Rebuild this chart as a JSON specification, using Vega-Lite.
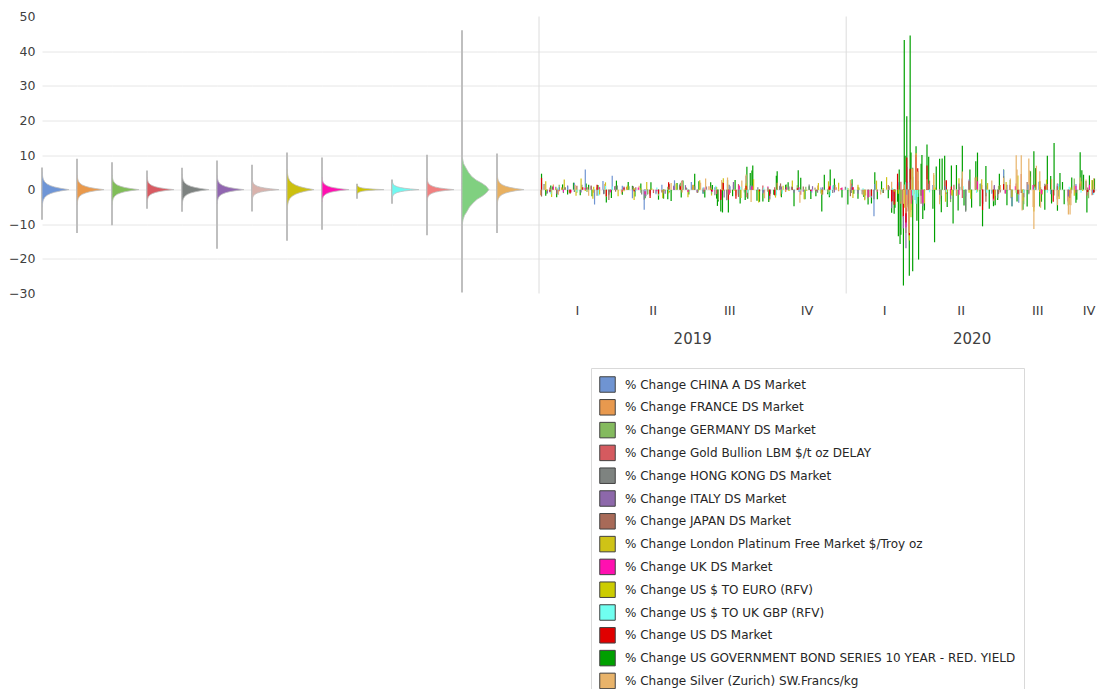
{
"$schema": "https://vega.github.io/schema/vega-lite/v6.json",
"padding": {"left": 0, "top": 10.5, "right": 0, "bottom": 0},
"background": "white",
"config": {"view": {"stroke": null}, "font": "DejaVu Sans"},
"spacing": 0,
"resolve": {"scale": {"color": "independent"}, "legend": {"color": "independent"}},
"datasets": {
"names": [
{"c":"a","n":"% Change CHINA A DS Market"},{"c":"b","n":"% Change FRANCE DS Market"},{"c":"c","n":"% Change GERMANY DS Market"},{"c":"d","n":"% Change Gold Bullion LBM $/t oz DELAY"},{"c":"e","n":"% Change HONG KONG DS Market"},{"c":"f","n":"% Change ITALY DS Market"},{"c":"g","n":"% Change JAPAN DS Market"},{"c":"h","n":"% Change London Platinum Free Market $/Troy oz"},{"c":"i","n":"% Change UK DS Market"},{"c":"j","n":"% Change US $ TO EURO (RFV)"},{"c":"k","n":"% Change US $ TO UK GBP (RFV)"},{"c":"l","n":"% Change US DS Market"},{"c":"m","n":"% Change US GOVERNMENT BOND SERIES 10 YEAR - RED. YIELD"},{"c":"n","n":"% Change Silver (Zurich) SW.Francs/kg"}
],
"vio": [
{"s": "% Change CHINA A DS Market", "lo": -8.7, "hi": 6.4, "v": [-5,-3.75,-3,-2.25,-1.63,-1.13,-0.75,-0.38,0,0.38,0.75,1.13,1.63,2.25,3,3.75,5], "w": [0.01,0.025,0.05,0.1,0.19,0.32,0.47,0.69,1,0.69,0.47,0.32,0.19,0.1,0.05,0.025,0.01]},
{"s": "% Change FRANCE DS Market", "lo": -12.5, "hi": 8.9, "v": [-4.2,-3.15,-2.52,-1.89,-1.37,-0.95,-0.63,-0.32,0,0.32,0.63,0.95,1.37,1.89,2.52,3.15,4.2], "w": [0.01,0.025,0.05,0.1,0.19,0.32,0.47,0.69,1,0.69,0.47,0.32,0.19,0.1,0.05,0.025,0.01]},
{"s": "% Change GERMANY DS Market", "lo": -10.3, "hi": 7.9, "v": [-4.2,-3.15,-2.52,-1.89,-1.37,-0.95,-0.63,-0.32,0,0.32,0.63,0.95,1.37,1.89,2.52,3.15,4.2], "w": [0.01,0.025,0.05,0.1,0.19,0.32,0.47,0.69,1,0.69,0.47,0.32,0.19,0.1,0.05,0.025,0.01]},
{"s": "% Change Gold Bullion LBM $/t oz DELAY", "lo": -5.5, "hi": 5.5, "v": [-3.6,-2.7,-2.16,-1.62,-1.17,-0.81,-0.54,-0.27,0,0.27,0.54,0.81,1.17,1.62,2.16,2.7,3.6], "w": [0.01,0.025,0.05,0.1,0.19,0.32,0.47,0.69,1,0.69,0.47,0.32,0.19,0.1,0.05,0.025,0.01]},
{"s": "% Change HONG KONG DS Market", "lo": -6.4, "hi": 6.3, "v": [-4.4,-3.3,-2.64,-1.98,-1.43,-0.99,-0.66,-0.33,0,0.33,0.66,0.99,1.43,1.98,2.64,3.3,4.4], "w": [0.01,0.025,0.05,0.1,0.19,0.32,0.47,0.69,1,0.69,0.47,0.32,0.19,0.1,0.05,0.025,0.01]},
{"s": "% Change ITALY DS Market", "lo": -17.1, "hi": 8.4, "v": [-4,-3,-2.4,-1.8,-1.3,-0.9,-0.6,-0.3,0,0.3,0.6,0.9,1.3,1.8,2.4,3,4], "w": [0.01,0.025,0.05,0.1,0.19,0.32,0.47,0.69,1,0.69,0.47,0.32,0.19,0.1,0.05,0.025,0.01]},
{"s": "% Change JAPAN DS Market", "lo": -6.3, "hi": 7.2, "v": [-3.1,-2.33,-1.86,-1.4,-1.01,-0.7,-0.47,-0.23,0,0.23,0.47,0.7,1.01,1.4,1.86,2.33,3.1], "w": [0.01,0.025,0.05,0.1,0.19,0.32,0.47,0.69,1,0.69,0.47,0.32,0.19,0.1,0.05,0.025,0.01]},
{"s": "% Change London Platinum Free Market $/Troy oz", "lo": -14.8, "hi": 10.7, "v": [-5.8,-4.35,-3.48,-2.61,-1.89,-1.31,-0.87,-0.44,0,0.44,0.87,1.31,1.89,2.61,3.48,4.35,5.8], "w": [0.01,0.025,0.05,0.1,0.19,0.32,0.47,0.69,1,0.69,0.47,0.32,0.19,0.1,0.05,0.025,0.01]},
{"s": "% Change UK DS Market", "lo": -11.6, "hi": 9.3, "v": [-3.4,-2.55,-2.04,-1.53,-1.11,-0.77,-0.51,-0.26,0,0.26,0.51,0.77,1.11,1.53,2.04,2.55,3.4], "w": [0.01,0.025,0.05,0.1,0.19,0.32,0.47,0.69,1,0.69,0.47,0.32,0.19,0.1,0.05,0.025,0.01]},
{"s": "% Change US $ TO EURO (RFV)", "lo": -2.6, "hi": 1.7, "v": [-1.5,-1.13,-0.9,-0.68,-0.49,-0.34,-0.23,-0.11,0,0.11,0.23,0.34,0.49,0.68,0.9,1.13,1.5], "w": [0.01,0.025,0.05,0.1,0.19,0.32,0.47,0.69,1,0.69,0.47,0.32,0.19,0.1,0.05,0.025,0.01]},
{"s": "% Change US $ TO UK GBP (RFV)", "lo": -4.1, "hi": 2.9, "v": [-2.6,-1.95,-1.56,-1.17,-0.85,-0.59,-0.39,-0.2,0,0.2,0.39,0.59,0.85,1.17,1.56,1.95,2.6], "w": [0.01,0.025,0.05,0.1,0.19,0.32,0.47,0.69,1,0.69,0.47,0.32,0.19,0.1,0.05,0.025,0.01]},
{"s": "% Change US DS Market", "lo": -13.2, "hi": 10.1, "v": [-3.2,-2.4,-1.92,-1.44,-1.04,-0.72,-0.48,-0.24,0,0.24,0.48,0.72,1.04,1.44,1.92,2.4,3.2], "w": [0.01,0.025,0.05,0.1,0.19,0.32,0.47,0.69,1,0.69,0.47,0.32,0.19,0.1,0.05,0.025,0.01]},
{"s": "% Change US GOVERNMENT BOND SERIES 10 YEAR - RED. YIELD", "lo": -29.7, "hi": 46.0, "v": [-10,-8.7,-7.5,-6.5,-5,-3.8,-2.8,-1.9,-1,0,1,1.9,2.8,3.8,5,6.5,7.5,9], "w": [0.01,0.04,0.09,0.17,0.28,0.42,0.56,0.75,0.9,1,0.9,0.73,0.52,0.36,0.24,0.13,0.06,0.02]},
{"s": "% Change Silver (Zurich) SW.Francs/kg", "lo": -12.5, "hi": 10.4, "v": [-4.4,-3.3,-2.64,-1.98,-1.43,-0.99,-0.66,-0.33,0,0.33,0.66,0.99,1.43,1.98,2.64,3.3,4.4], "w": [0.01,0.025,0.05,0.1,0.19,0.32,0.47,0.69,1,0.69,0.47,0.32,0.19,0.1,0.05,0.025,0.01]}
],
"ts": [
{"c":"m","t":"2019-01-17","v":0.9},{"c":"m","t":"2019-02-07","v":-1.1},{"c":"m","t":"2019-03-01","v":1.4},{"c":"m","t":"2019-03-19","v":-1.2},{"c":"m","t":"2019-04-22","v":1.1},{"c":"m","t":"2019-05-10","v":-1.3},{"c":"m","t":"2019-06-11","v":1.5},{"c":"m","t":"2019-07-15","v":-1.1},{"c":"m","t":"2019-07-26","v":1.3},{"c":"m","t":"2019-08-19","v":-1.9},{"c":"m","t":"2019-10-07","v":-1.5},{"c":"m","t":"2019-10-21","v":1.4},{"c":"m","t":"2019-11-18","v":1.0},{"c":"m","t":"2019-12-10","v":-1.3},{"c":"m","t":"2020-01-10","v":-1.2},{"c":"m","t":"2020-02-14","v":-1.0},{"c":"m","t":"2020-06-29","v":-3.0},{"c":"m","t":"2020-07-14","v":2.8},{"c":"m","t":"2020-08-31","v":3.9},{"c":"m","t":"2020-09-14","v":2.2},{"c":"m","t":"2020-10-01","v":-2.9},
{"c":"m","t":"2019-01-04","v":4.6},{"c":"m","t":"2019-01-09","v":-1.8},{"c":"m","t":"2019-01-15","v":1.2},{"c":"m","t":"2019-01-22","v":-2.2},{"c":"m","t":"2019-01-29","v":1.5},{"c":"m","t":"2019-02-04","v":-1.4},{"c":"m","t":"2019-02-11","v":2.0},{"c":"m","t":"2019-02-19","v":-1.6},{"c":"m","t":"2019-02-26","v":1.8},{"c":"m","t":"2019-03-05","v":-1.9},{"c":"m","t":"2019-03-12","v":1.3},{"c":"m","t":"2019-03-22","v":-3.7},{"c":"m","t":"2019-03-28","v":-2.4},{"c":"m","t":"2019-04-03","v":2.6},{"c":"m","t":"2019-04-10","v":-1.5},{"c":"m","t":"2019-04-17","v":2.2},{"c":"m","t":"2019-04-25","v":-2.0},{"c":"m","t":"2019-05-02","v":1.8},{"c":"m","t":"2019-05-07","v":-2.5},{"c":"m","t":"2019-05-14","v":2.1},{"c":"m","t":"2019-05-23","v":-2.9},{"c":"m","t":"2019-05-29","v":-2.6},{"c":"m","t":"2019-06-03","v":-2.8},{"c":"m","t":"2019-06-07","v":-3.3},{"c":"m","t":"2019-06-14","v":1.9},{"c":"m","t":"2019-06-19","v":-2.3},{"c":"m","t":"2019-06-21","v":2.6},{"c":"m","t":"2019-06-28","v":-1.4},{"c":"m","t":"2019-07-05","v":4.6},{"c":"m","t":"2019-07-10","v":2.4},{"c":"m","t":"2019-07-17","v":-2.3},{"c":"m","t":"2019-07-24","v":2.1},{"c":"m","t":"2019-07-31","v":-2.6},{"c":"m","t":"2019-08-01","v":-4.7},{"c":"m","t":"2019-08-02","v":-3.4},{"c":"m","t":"2019-08-05","v":-6.3},{"c":"m","t":"2019-08-07","v":-6.6},{"c":"m","t":"2019-08-13","v":2.8},{"c":"m","t":"2019-08-14","v":-6.6},{"c":"m","t":"2019-08-22","v":2.8},{"c":"m","t":"2019-08-28","v":-4.0},{"c":"m","t":"2019-09-03","v":-3.0},{"c":"m","t":"2019-09-05","v":6.6},{"c":"m","t":"2019-09-06","v":-2.6},{"c":"m","t":"2019-09-09","v":4.8},{"c":"m","t":"2019-09-11","v":5.5},{"c":"m","t":"2019-09-12","v":7.0},{"c":"m","t":"2019-09-17","v":-3.2},{"c":"m","t":"2019-09-20","v":-3.5},{"c":"m","t":"2019-09-24","v":-3.4},{"c":"m","t":"2019-10-01","v":-3.6},{"c":"m","t":"2019-10-02","v":-2.8},{"c":"m","t":"2019-10-10","v":4.0},{"c":"m","t":"2019-10-11","v":5.3},{"c":"m","t":"2019-10-16","v":-2.2},{"c":"m","t":"2019-10-24","v":2.1},{"c":"m","t":"2019-10-31","v":-4.8},{"c":"m","t":"2019-11-05","v":5.6},{"c":"m","t":"2019-11-08","v":3.4},{"c":"m","t":"2019-11-13","v":-2.8},{"c":"m","t":"2019-11-20","v":-2.7},{"c":"m","t":"2019-11-26","v":-1.9},{"c":"m","t":"2019-12-03","v":-6.3},{"c":"m","t":"2019-12-06","v":4.3},{"c":"m","t":"2019-12-12","v":-2.2},{"c":"m","t":"2019-12-13","v":5.8},{"c":"m","t":"2019-12-18","v":3.2},{"c":"m","t":"2019-12-27","v":-2.3},
{"c":"m","t":"2020-01-03","v":-4.3},{"c":"m","t":"2020-01-08","v":3.0},{"c":"m","t":"2020-01-15","v":-2.6},{"c":"m","t":"2020-01-22","v":-2.1},{"c":"m","t":"2020-01-27","v":-4.3},{"c":"m","t":"2020-01-31","v":-4.0},{"c":"m","t":"2020-02-04","v":5.0},{"c":"m","t":"2020-02-07","v":-2.8},{"c":"m","t":"2020-02-12","v":2.4},{"c":"m","t":"2020-02-20","v":-2.5},{"c":"m","t":"2020-02-24","v":-6.7},{"c":"m","t":"2020-02-27","v":-7.0},{"c":"m","t":"2020-02-28","v":-5.2},{"c":"m","t":"2020-03-02","v":-3.5},{"c":"m","t":"2020-03-03","v":-13.5},{"c":"m","t":"2020-03-04","v":5.8},{"c":"m","t":"2020-03-05","v":-15.7},{"c":"m","t":"2020-03-06","v":-13.0},{"c":"m","t":"2020-03-09","v":-27.7},{"c":"m","t":"2020-03-10","v":43.2},{"c":"m","t":"2020-03-11","v":9.8},{"c":"m","t":"2020-03-12","v":-8.0},{"c":"m","t":"2020-03-13","v":21.2},{"c":"m","t":"2020-03-16","v":-24.9},{"c":"m","t":"2020-03-17","v":44.5},{"c":"m","t":"2020-03-18","v":10.7},{"c":"m","t":"2020-03-20","v":-23.6},{"c":"m","t":"2020-03-24","v":12.5},{"c":"m","t":"2020-03-25","v":-9.0},{"c":"m","t":"2020-03-27","v":-20.2},{"c":"m","t":"2020-03-30","v":7.5},{"c":"m","t":"2020-03-31","v":10.0},{"c":"m","t":"2020-04-01","v":-8.5},{"c":"m","t":"2020-04-03","v":-6.0},{"c":"m","t":"2020-04-06","v":13.0},{"c":"m","t":"2020-04-08","v":9.5},{"c":"m","t":"2020-04-13","v":-5.5},{"c":"m","t":"2020-04-15","v":-15.2},{"c":"m","t":"2020-04-17","v":6.7},{"c":"m","t":"2020-04-21","v":8.9},{"c":"m","t":"2020-04-23","v":-6.5},{"c":"m","t":"2020-04-24","v":9.0},{"c":"m","t":"2020-04-27","v":9.8},{"c":"m","t":"2020-04-30","v":-5.0},{"c":"m","t":"2020-05-05","v":7.0},{"c":"m","t":"2020-05-07","v":-9.8},{"c":"m","t":"2020-05-11","v":7.1},{"c":"m","t":"2020-05-13","v":-6.0},{"c":"m","t":"2020-05-18","v":12.7},{"c":"m","t":"2020-05-20","v":-4.6},{"c":"m","t":"2020-05-22","v":-6.0},{"c":"m","t":"2020-05-27","v":5.8},{"c":"m","t":"2020-05-29","v":-5.2},{"c":"m","t":"2020-06-03","v":8.2},{"c":"m","t":"2020-06-05","v":10.7},{"c":"m","t":"2020-06-08","v":-4.8},{"c":"m","t":"2020-06-11","v":-10.6},{"c":"m","t":"2020-06-15","v":6.8},{"c":"m","t":"2020-06-19","v":-5.5},{"c":"m","t":"2020-06-24","v":-4.8},{"c":"m","t":"2020-06-26","v":-4.5},{"c":"m","t":"2020-07-01","v":4.6},{"c":"m","t":"2020-07-06","v":5.8},{"c":"m","t":"2020-07-10","v":-4.5},{"c":"m","t":"2020-07-16","v":-4.8},{"c":"m","t":"2020-07-22","v":-3.4},{"c":"m","t":"2020-07-29","v":-5.8},{"c":"m","t":"2020-08-03","v":-4.9},{"c":"m","t":"2020-08-07","v":5.3},{"c":"m","t":"2020-08-11","v":11.1},{"c":"m","t":"2020-08-13","v":6.2},{"c":"m","t":"2020-08-18","v":-4.9},{"c":"m","t":"2020-08-20","v":-3.5},{"c":"m","t":"2020-08-24","v":-5.8},{"c":"m","t":"2020-08-27","v":9.8},{"c":"m","t":"2020-09-01","v":-4.0},{"c":"m","t":"2020-09-04","v":13.5},{"c":"m","t":"2020-09-08","v":-6.1},{"c":"m","t":"2020-09-11","v":4.8},{"c":"m","t":"2020-09-16","v":-4.2},{"c":"m","t":"2020-09-21","v":-4.6},{"c":"m","t":"2020-09-25","v":3.5},{"c":"m","t":"2020-09-30","v":-3.8},{"c":"m","t":"2020-10-05","v":10.8},{"c":"m","t":"2020-10-07","v":5.6},{"c":"m","t":"2020-10-09","v":4.3},{"c":"m","t":"2020-10-13","v":-6.6},{"c":"m","t":"2020-10-16","v":4.1},{"c":"m","t":"2020-10-20","v":2.7},{"c":"m","t":"2020-10-22","v":3.2},
{"c":"a","t":"2019-01-04","v":2.0},{"c":"a","t":"2019-01-23","v":-1.4},{"c":"a","t":"2019-02-12","v":2.0},{"c":"a","t":"2019-02-25","v":5.8},{"c":"a","t":"2019-03-08","v":-4.3},{"c":"a","t":"2019-03-18","v":2.5},{"c":"a","t":"2019-03-29","v":4.0},{"c":"a","t":"2019-04-22","v":-2.5},{"c":"a","t":"2019-05-06","v":-5.8},{"c":"a","t":"2019-05-13","v":-1.8},{"c":"a","t":"2019-05-27","v":1.4},{"c":"a","t":"2019-06-11","v":2.7},{"c":"a","t":"2019-06-20","v":2.5},{"c":"a","t":"2019-07-15","v":-1.2},{"c":"a","t":"2019-08-05","v":-1.8},{"c":"a","t":"2019-08-26","v":-1.6},{"c":"a","t":"2019-09-09","v":1.2},{"c":"a","t":"2019-10-28","v":0.9},{"c":"a","t":"2019-11-21","v":-0.9},{"c":"a","t":"2019-12-17","v":1.3},{"c":"a","t":"2020-01-23","v":-2.8},{"c":"a","t":"2020-02-03","v":-7.7},{"c":"a","t":"2020-02-04","v":1.6},{"c":"a","t":"2020-02-25","v":-1.0},{"c":"a","t":"2020-03-03","v":2.1},{"c":"a","t":"2020-03-09","v":-3.0},{"c":"a","t":"2020-03-16","v":-3.3},{"c":"a","t":"2020-03-23","v":-3.0},{"c":"a","t":"2020-04-13","v":1.3},{"c":"a","t":"2020-05-22","v":-1.9},{"c":"a","t":"2020-06-09","v":1.8},{"c":"a","t":"2020-07-06","v":5.7},{"c":"a","t":"2020-07-16","v":-4.8},{"c":"a","t":"2020-07-24","v":-3.8},{"c":"a","t":"2020-08-17","v":2.3},{"c":"a","t":"2020-09-09","v":-2.0},{"c":"a","t":"2020-09-30","v":1.6},{"c":"a","t":"2020-10-12","v":2.4},
{"c":"b","t":"2019-01-03","v":-1.6},{"c":"b","t":"2019-01-18","v":1.5},{"c":"b","t":"2019-02-07","v":-1.1},{"c":"b","t":"2019-03-07","v":-0.9},{"c":"b","t":"2019-03-22","v":-2.0},{"c":"b","t":"2019-04-15","v":0.8},{"c":"b","t":"2019-05-07","v":-1.7},{"c":"b","t":"2019-05-13","v":-1.3},{"c":"b","t":"2019-06-04","v":1.9},{"c":"b","t":"2019-07-02","v":0.9},{"c":"b","t":"2019-08-05","v":-2.2},{"c":"b","t":"2019-08-13","v":1.6},{"c":"b","t":"2019-08-23","v":-1.8},{"c":"b","t":"2019-09-25","v":-1.4},{"c":"b","t":"2019-10-02","v":-3.1},{"c":"b","t":"2019-10-11","v":2.0},{"c":"b","t":"2019-11-04","v":1.1},{"c":"b","t":"2019-12-03","v":-1.5},{"c":"b","t":"2019-12-13","v":1.2},{"c":"b","t":"2020-01-06","v":-0.8},{"c":"b","t":"2020-01-24","v":-1.7},{"c":"b","t":"2020-01-31","v":-2.2},{"c":"b","t":"2020-02-24","v":-3.9},{"c":"b","t":"2020-02-27","v":-3.3},{"c":"b","t":"2020-03-06","v":-4.1},{"c":"b","t":"2020-03-09","v":-8.4},{"c":"b","t":"2020-03-10","v":1.5},{"c":"b","t":"2020-03-12","v":-12.5},{"c":"b","t":"2020-03-13","v":1.8},{"c":"b","t":"2020-03-16","v":-5.8},{"c":"b","t":"2020-03-18","v":-5.9},{"c":"b","t":"2020-03-24","v":8.9},{"c":"b","t":"2020-03-26","v":2.5},{"c":"b","t":"2020-04-01","v":-4.3},{"c":"b","t":"2020-04-06","v":4.6},{"c":"b","t":"2020-04-29","v":2.2},{"c":"b","t":"2020-05-11","v":-1.8},{"c":"b","t":"2020-05-26","v":2.1},{"c":"b","t":"2020-06-04","v":3.7},{"c":"b","t":"2020-06-11","v":-4.7},{"c":"b","t":"2020-06-26","v":-1.8},{"c":"b","t":"2020-07-14","v":1.6},{"c":"b","t":"2020-07-24","v":-1.5},{"c":"b","t":"2020-08-21","v":-1.4},{"c":"b","t":"2020-09-08","v":1.8},{"c":"b","t":"2020-09-21","v":-3.7},{"c":"b","t":"2020-10-05","v":1.0},{"c":"b","t":"2020-10-19","v":-1.6},
{"c":"c","t":"2019-01-10","v":-1.3},{"c":"c","t":"2019-01-25","v":1.4},{"c":"c","t":"2019-02-15","v":-0.9},{"c":"c","t":"2019-03-13","v":0.8},{"c":"c","t":"2019-03-25","v":-1.6},{"c":"c","t":"2019-04-18","v":1.0},{"c":"c","t":"2019-05-10","v":-1.4},{"c":"c","t":"2019-05-23","v":-1.8},{"c":"c","t":"2019-06-18","v":2.0},{"c":"c","t":"2019-07-09","v":-0.8},{"c":"c","t":"2019-08-02","v":-3.1},{"c":"c","t":"2019-08-12","v":-1.3},{"c":"c","t":"2019-08-20","v":1.4},{"c":"c","t":"2019-09-19","v":-0.7},{"c":"c","t":"2019-10-08","v":-1.6},{"c":"c","t":"2019-10-22","v":1.5},{"c":"c","t":"2019-11-14","v":0.8},{"c":"c","t":"2019-12-10","v":-0.9},{"c":"c","t":"2020-01-08","v":1.2},{"c":"c","t":"2020-01-27","v":-2.7},{"c":"c","t":"2020-02-26","v":-1.9},{"c":"c","t":"2020-03-03","v":1.1},{"c":"c","t":"2020-03-06","v":-3.4},{"c":"c","t":"2020-03-09","v":-7.9},{"c":"c","t":"2020-03-12","v":-10.3},{"c":"c","t":"2020-03-16","v":-5.4},{"c":"c","t":"2020-03-17","v":2.4},{"c":"c","t":"2020-03-20","v":3.7},{"c":"c","t":"2020-03-24","v":7.9},{"c":"c","t":"2020-03-30","v":-1.7},{"c":"c","t":"2020-04-06","v":5.8},{"c":"c","t":"2020-04-14","v":1.3},{"c":"c","t":"2020-05-04","v":-3.6},{"c":"c","t":"2020-05-15","v":0.8},{"c":"c","t":"2020-05-27","v":2.2},{"c":"c","t":"2020-06-08","v":1.7},{"c":"c","t":"2020-06-15","v":-1.9},{"c":"c","t":"2020-06-24","v":-3.4},{"c":"c","t":"2020-07-08","v":-1.1},{"c":"c","t":"2020-07-30","v":-4.2},{"c":"c","t":"2020-08-19","v":0.7},{"c":"c","t":"2020-09-04","v":-1.7},{"c":"c","t":"2020-09-28","v":3.2},{"c":"c","t":"2020-10-15","v":-2.5},
{"c":"d","t":"2019-01-14","v":0.6},{"c":"d","t":"2019-02-06","v":-0.8},{"c":"d","t":"2019-02-28","v":0.7},{"c":"d","t":"2019-03-26","v":-0.6},{"c":"d","t":"2019-04-23","v":0.9},{"c":"d","t":"2019-05-17","v":-1.0},{"c":"d","t":"2019-06-20","v":2.6},{"c":"d","t":"2019-07-03","v":1.4},{"c":"d","t":"2019-07-31","v":-1.3},{"c":"d","t":"2019-08-07","v":2.1},{"c":"d","t":"2019-08-26","v":1.6},{"c":"d","t":"2019-09-05","v":-2.2},{"c":"d","t":"2019-09-24","v":1.2},{"c":"d","t":"2019-10-21","v":-0.6},{"c":"d","t":"2019-11-08","v":-1.5},{"c":"d","t":"2019-12-20","v":0.7},{"c":"d","t":"2020-01-07","v":1.8},{"c":"d","t":"2020-01-21","v":-0.7},{"c":"d","t":"2020-02-20","v":1.3},{"c":"d","t":"2020-02-28","v":-3.6},{"c":"d","t":"2020-03-06","v":2.3},{"c":"d","t":"2020-03-13","v":-4.5},{"c":"d","t":"2020-03-16","v":-5.5},{"c":"d","t":"2020-03-19","v":-3.1},{"c":"d","t":"2020-03-24","v":5.5},{"c":"d","t":"2020-03-25","v":2.9},{"c":"d","t":"2020-04-09","v":2.6},{"c":"d","t":"2020-04-21","v":-2.7},{"c":"d","t":"2020-05-18","v":-2.4},{"c":"d","t":"2020-06-10","v":1.3},{"c":"d","t":"2020-07-21","v":1.8},{"c":"d","t":"2020-07-27","v":4.5},{"c":"d","t":"2020-08-11","v":-5.1},{"c":"d","t":"2020-08-18","v":2.4},{"c":"d","t":"2020-09-21","v":-3.3},{"c":"d","t":"2020-10-13","v":-1.7},{"c":"d","t":"2020-10-21","v":1.1},
{"c":"e","t":"2019-01-07","v":1.6},{"c":"e","t":"2019-01-30","v":-1.0},{"c":"e","t":"2019-02-21","v":1.4},{"c":"e","t":"2019-03-11","v":-1.8},{"c":"e","t":"2019-04-04","v":1.2},{"c":"e","t":"2019-05-03","v":-1.4},{"c":"e","t":"2019-05-06","v":-2.9},{"c":"e","t":"2019-05-29","v":-1.1},{"c":"e","t":"2019-06-17","v":1.5},{"c":"e","t":"2019-07-29","v":-1.6},{"c":"e","t":"2019-08-12","v":-3.1},{"c":"e","t":"2019-08-15","v":1.4},{"c":"e","t":"2019-09-04","v":3.9},{"c":"e","t":"2019-10-03","v":-1.2},{"c":"e","t":"2019-10-25","v":0.9},{"c":"e","t":"2019-11-18","v":1.5},{"c":"e","t":"2019-12-16","v":-1.0},{"c":"e","t":"2020-01-20","v":-1.3},{"c":"e","t":"2020-02-03","v":-2.8},{"c":"e","t":"2020-02-21","v":1.0},{"c":"e","t":"2020-03-09","v":-4.2},{"c":"e","t":"2020-03-13","v":-5.0},{"c":"e","t":"2020-03-16","v":-4.1},{"c":"e","t":"2020-03-19","v":-2.6},{"c":"e","t":"2020-03-20","v":6.3},{"c":"e","t":"2020-03-24","v":4.5},{"c":"e","t":"2020-03-30","v":-1.8},{"c":"e","t":"2020-04-08","v":1.6},{"c":"e","t":"2020-05-22","v":-6.4},{"c":"e","t":"2020-06-03","v":2.6},{"c":"e","t":"2020-06-29","v":-2.4},{"c":"e","t":"2020-07-06","v":3.9},{"c":"e","t":"2020-07-15","v":-2.5},{"c":"e","t":"2020-08-24","v":1.7},{"c":"e","t":"2020-09-23","v":-2.3},{"c":"e","t":"2020-10-12","v":2.5},
{"c":"f","t":"2019-01-11","v":-1.1},{"c":"f","t":"2019-02-04","v":1.2},{"c":"f","t":"2019-03-04","v":1.0},{"c":"f","t":"2019-03-19","v":-1.3},{"c":"f","t":"2019-04-12","v":0.9},{"c":"f","t":"2019-05-08","v":-1.9},{"c":"f","t":"2019-05-31","v":-1.2},{"c":"f","t":"2019-06-24","v":1.3},{"c":"f","t":"2019-07-19","v":0.9},{"c":"f","t":"2019-08-09","v":-2.3},{"c":"f","t":"2019-08-20","v":2.2},{"c":"f","t":"2019-09-11","v":1.2},{"c":"f","t":"2019-10-02","v":-2.6},{"c":"f","t":"2019-10-31","v":-0.9},{"c":"f","t":"2019-11-22","v":1.0},{"c":"f","t":"2019-12-18","v":-0.8},{"c":"f","t":"2020-01-15","v":-1.2},{"c":"f","t":"2020-01-31","v":-2.3},{"c":"f","t":"2020-02-24","v":-5.4},{"c":"f","t":"2020-02-28","v":-3.6},{"c":"f","t":"2020-03-09","v":-11.2},{"c":"f","t":"2020-03-12","v":-16.9},{"c":"f","t":"2020-03-13","v":6.5},{"c":"f","t":"2020-03-16","v":-6.1},{"c":"f","t":"2020-03-18","v":-2.4},{"c":"f","t":"2020-03-24","v":8.4},{"c":"f","t":"2020-04-01","v":-4.8},{"c":"f","t":"2020-04-06","v":3.0},{"c":"f","t":"2020-04-21","v":-3.4},{"c":"f","t":"2020-05-04","v":-2.7},{"c":"f","t":"2020-05-26","v":2.9},{"c":"f","t":"2020-06-11","v":-4.2},{"c":"f","t":"2020-07-10","v":1.4},{"c":"f","t":"2020-07-30","v":-2.2},{"c":"f","t":"2020-09-08","v":1.7},{"c":"f","t":"2020-10-05","v":1.2},{"c":"f","t":"2020-10-20","v":-1.5},
{"c":"g","t":"2019-01-04","v":-2.0},{"c":"g","t":"2019-01-22","v":-1.2},{"c":"g","t":"2019-02-15","v":1.1},{"c":"g","t":"2019-03-25","v":-3.0},{"c":"g","t":"2019-04-16","v":0.8},{"c":"g","t":"2019-05-13","v":-1.1},{"c":"g","t":"2019-06-05","v":1.6},{"c":"g","t":"2019-07-08","v":-1.0},{"c":"g","t":"2019-08-05","v":-1.7},{"c":"g","t":"2019-08-26","v":-2.1},{"c":"g","t":"2019-09-12","v":1.1},{"c":"g","t":"2019-10-15","v":1.8},{"c":"g","t":"2019-11-11","v":0.9},{"c":"g","t":"2019-12-04","v":-1.4},{"c":"g","t":"2020-01-06","v":-1.9},{"c":"g","t":"2020-01-28","v":-2.1},{"c":"g","t":"2020-02-25","v":-3.3},{"c":"g","t":"2020-03-02","v":1.5},{"c":"g","t":"2020-03-09","v":-5.1},{"c":"g","t":"2020-03-13","v":-6.3},{"c":"g","t":"2020-03-17","v":-0.5},{"c":"g","t":"2020-03-24","v":7.2},{"c":"g","t":"2020-03-25","v":5.1},{"c":"g","t":"2020-03-30","v":-4.1},{"c":"g","t":"2020-04-07","v":2.0},{"c":"g","t":"2020-04-27","v":2.7},{"c":"g","t":"2020-05-26","v":2.5},{"c":"g","t":"2020-06-15","v":-3.5},{"c":"g","t":"2020-07-02","v":-0.8},{"c":"g","t":"2020-08-03","v":2.2},{"c":"g","t":"2020-08-25","v":1.4},{"c":"g","t":"2020-09-24","v":-1.1},{"c":"g","t":"2020-10-14","v":0.6},
{"c":"h","t":"2019-01-09","v":2.4},{"c":"h","t":"2019-01-16","v":-2.1},{"c":"h","t":"2019-01-31","v":2.9},{"c":"h","t":"2019-02-14","v":-1.8},{"c":"h","t":"2019-02-20","v":3.2},{"c":"h","t":"2019-03-06","v":-2.6},{"c":"h","t":"2019-03-21","v":2.1},{"c":"h","t":"2019-04-05","v":-1.9},{"c":"h","t":"2019-04-24","v":-3.0},{"c":"h","t":"2019-05-09","v":2.2},{"c":"h","t":"2019-05-28","v":-2.5},{"c":"h","t":"2019-06-13","v":1.8},{"c":"h","t":"2019-06-27","v":-2.2},{"c":"h","t":"2019-07-11","v":2.7},{"c":"h","t":"2019-07-25","v":-1.7},{"c":"h","t":"2019-08-08","v":3.3},{"c":"h","t":"2019-08-29","v":-2.4},{"c":"h","t":"2019-09-13","v":3.0},{"c":"h","t":"2019-09-19","v":-3.7},{"c":"h","t":"2019-10-09","v":-2.3},{"c":"h","t":"2019-10-29","v":2.6},{"c":"h","t":"2019-11-12","v":-2.8},{"c":"h","t":"2019-11-29","v":1.9},{"c":"h","t":"2019-12-11","v":2.4},{"c":"h","t":"2019-12-23","v":2.0},{"c":"h","t":"2020-01-09","v":-2.4},{"c":"h","t":"2020-01-23","v":-3.1},{"c":"h","t":"2020-02-06","v":2.6},{"c":"h","t":"2020-02-18","v":3.6},{"c":"h","t":"2020-02-28","v":-4.2},{"c":"h","t":"2020-03-10","v":-5.2},{"c":"h","t":"2020-03-12","v":-6.1},{"c":"h","t":"2020-03-16","v":-14.7},{"c":"h","t":"2020-03-18","v":-8.0},{"c":"h","t":"2020-03-20","v":6.1},{"c":"h","t":"2020-03-24","v":10.6},{"c":"h","t":"2020-03-26","v":5.4},{"c":"h","t":"2020-04-03","v":-4.0},{"c":"h","t":"2020-04-14","v":4.2},{"c":"h","t":"2020-04-28","v":-3.5},{"c":"h","t":"2020-05-14","v":3.3},{"c":"h","t":"2020-05-28","v":-2.6},{"c":"h","t":"2020-06-10","v":3.0},{"c":"h","t":"2020-06-25","v":-3.1},{"c":"h","t":"2020-07-09","v":2.2},{"c":"h","t":"2020-07-23","v":4.1},{"c":"h","t":"2020-07-29","v":-3.2},{"c":"h","t":"2020-08-06","v":3.8},{"c":"h","t":"2020-08-11","v":-6.3},{"c":"h","t":"2020-08-26","v":2.9},{"c":"h","t":"2020-09-10","v":-2.7},{"c":"h","t":"2020-09-22","v":-4.4},{"c":"h","t":"2020-10-06","v":2.4},{"c":"h","t":"2020-10-19","v":2.8},
{"c":"i","t":"2019-01-18","v":0.9},{"c":"i","t":"2019-02-08","v":-0.8},{"c":"i","t":"2019-03-14","v":0.7},{"c":"i","t":"2019-04-10","v":-0.6},{"c":"i","t":"2019-05-07","v":-1.3},{"c":"i","t":"2019-06-10","v":0.8},{"c":"i","t":"2019-07-16","v":0.6},{"c":"i","t":"2019-08-05","v":-2.6},{"c":"i","t":"2019-08-27","v":1.2},{"c":"i","t":"2019-09-30","v":0.9},{"c":"i","t":"2019-10-08","v":-1.3},{"c":"i","t":"2019-11-06","v":0.7},{"c":"i","t":"2019-12-13","v":1.1},{"c":"i","t":"2020-01-27","v":-2.3},{"c":"i","t":"2020-02-24","v":-3.3},{"c":"i","t":"2020-02-27","v":-3.5},{"c":"i","t":"2020-03-09","v":-7.8},{"c":"i","t":"2020-03-12","v":-10.9},{"c":"i","t":"2020-03-13","v":2.4},{"c":"i","t":"2020-03-16","v":-4.0},{"c":"i","t":"2020-03-18","v":-4.1},{"c":"i","t":"2020-03-24","v":9.3},{"c":"i","t":"2020-03-25","v":4.4},{"c":"i","t":"2020-04-01","v":-3.8},{"c":"i","t":"2020-04-06","v":3.1},{"c":"i","t":"2020-05-04","v":-1.2},{"c":"i","t":"2020-06-05","v":2.4},{"c":"i","t":"2020-06-11","v":-4.0},{"c":"i","t":"2020-06-24","v":-3.1},{"c":"i","t":"2020-07-20","v":1.0},{"c":"i","t":"2020-08-10","v":1.3},{"c":"i","t":"2020-09-08","v":1.4},{"c":"i","t":"2020-09-21","v":-3.4},{"c":"i","t":"2020-10-16","v":1.4},
{"c":"j","t":"2019-01-10","v":-0.4},{"c":"j","t":"2019-01-28","v":0.5},{"c":"j","t":"2019-02-14","v":0.3},{"c":"j","t":"2019-03-07","v":0.8},{"c":"j","t":"2019-03-27","v":-0.4},{"c":"j","t":"2019-04-12","v":-0.5},{"c":"j","t":"2019-05-02","v":0.4},{"c":"j","t":"2019-05-30","v":-0.3},{"c":"j","t":"2019-06-18","v":0.6},{"c":"j","t":"2019-07-09","v":-0.3},{"c":"j","t":"2019-07-31","v":0.8},{"c":"j","t":"2019-08-21","v":-0.3},{"c":"j","t":"2019-09-12","v":0.6},{"c":"j","t":"2019-10-01","v":-0.5},{"c":"j","t":"2019-10-17","v":-0.6},{"c":"j","t":"2019-11-15","v":-0.3},{"c":"j","t":"2019-12-12","v":-0.6},{"c":"j","t":"2020-01-16","v":0.4},{"c":"j","t":"2020-02-14","v":0.5},{"c":"j","t":"2020-03-03","v":-1.2},{"c":"j","t":"2020-03-09","v":-1.4},{"c":"j","t":"2020-03-13","v":1.4},{"c":"j","t":"2020-03-19","v":1.7},{"c":"j","t":"2020-03-23","v":-1.3},{"c":"j","t":"2020-03-26","v":-1.1},{"c":"j","t":"2020-04-16","v":0.6},{"c":"j","t":"2020-05-26","v":-0.9},{"c":"j","t":"2020-06-23","v":-0.8},{"c":"j","t":"2020-07-21","v":-0.9},{"c":"j","t":"2020-08-18","v":-0.7},{"c":"j","t":"2020-09-10","v":0.8},{"c":"j","t":"2020-10-08","v":-0.4},
{"c":"k","t":"2019-01-15","v":-1.3},{"c":"k","t":"2019-02-01","v":0.6},{"c":"k","t":"2019-03-13","v":-1.8},{"c":"k","t":"2019-03-29","v":0.9},{"c":"k","t":"2019-04-26","v":-0.4},{"c":"k","t":"2019-05-21","v":0.6},{"c":"k","t":"2019-06-26","v":0.4},{"c":"k","t":"2019-07-30","v":1.1},{"c":"k","t":"2019-08-16","v":-0.8},{"c":"k","t":"2019-09-06","v":-0.9},{"c":"k","t":"2019-10-10","v":-1.7},{"c":"k","t":"2019-10-17","v":-1.2},{"c":"k","t":"2019-11-25","v":0.5},{"c":"k","t":"2019-12-13","v":-1.8},{"c":"k","t":"2019-12-16","v":1.2},{"c":"k","t":"2020-01-21","v":0.4},{"c":"k","t":"2020-02-12","v":-0.6},{"c":"k","t":"2020-03-12","v":2.1},{"c":"k","t":"2020-03-13","v":1.9},{"c":"k","t":"2020-03-16","v":2.1},{"c":"k","t":"2020-03-18","v":2.9},{"c":"k","t":"2020-03-20","v":-1.7},{"c":"k","t":"2020-03-23","v":-3.0},{"c":"k","t":"2020-03-24","v":-4.1},{"c":"k","t":"2020-03-26","v":-2.1},{"c":"k","t":"2020-04-09","v":-0.8},{"c":"k","t":"2020-05-19","v":1.0},{"c":"k","t":"2020-06-16","v":-0.9},{"c":"k","t":"2020-07-22","v":-0.9},{"c":"k","t":"2020-08-27","v":-0.9},{"c":"k","t":"2020-09-09","v":1.7},{"c":"k","t":"2020-10-06","v":-0.9},{"c":"k","t":"2020-10-21","v":-1.4},
{"c":"l","t":"2019-01-04","v":3.4},{"c":"l","t":"2019-01-24","v":0.5},{"c":"l","t":"2019-02-22","v":0.7},{"c":"l","t":"2019-03-22","v":-1.9},{"c":"l","t":"2019-04-12","v":0.6},{"c":"l","t":"2019-05-13","v":-2.4},{"c":"l","t":"2019-06-04","v":2.1},{"c":"l","t":"2019-07-15","v":0.4},{"c":"l","t":"2019-08-05","v":-3.0},{"c":"l","t":"2019-08-14","v":-2.9},{"c":"l","t":"2019-08-23","v":-2.6},{"c":"l","t":"2019-09-20","v":-0.5},{"c":"l","t":"2019-10-02","v":-1.8},{"c":"l","t":"2019-10-29","v":0.6},{"c":"l","t":"2019-11-20","v":-0.4},{"c":"l","t":"2019-12-03","v":-0.7},{"c":"l","t":"2019-12-26","v":0.5},{"c":"l","t":"2020-01-31","v":-1.8},{"c":"l","t":"2020-02-24","v":-3.4},{"c":"l","t":"2020-02-27","v":-4.4},{"c":"l","t":"2020-03-02","v":4.6},{"c":"l","t":"2020-03-09","v":-7.6},{"c":"l","t":"2020-03-12","v":-9.5},{"c":"l","t":"2020-03-13","v":9.3},{"c":"l","t":"2020-03-16","v":-13.2},{"c":"l","t":"2020-03-17","v":6.0},{"c":"l","t":"2020-03-24","v":10.1},{"c":"l","t":"2020-03-26","v":6.2},{"c":"l","t":"2020-04-06","v":7.0},{"c":"l","t":"2020-04-29","v":2.7},{"c":"l","t":"2020-05-18","v":3.2},{"c":"l","t":"2020-06-11","v":-5.9},{"c":"l","t":"2020-06-24","v":-2.6},{"c":"l","t":"2020-07-14","v":1.3},{"c":"l","t":"2020-08-12","v":1.4},{"c":"l","t":"2020-09-03","v":-3.5},{"c":"l","t":"2020-09-08","v":-2.8},{"c":"l","t":"2020-09-23","v":-2.4},{"c":"l","t":"2020-10-05","v":1.8},{"c":"l","t":"2020-10-14","v":-0.7},
{"c":"n","t":"2019-01-08","v":1.2},{"c":"n","t":"2019-01-24","v":-1.5},{"c":"n","t":"2019-02-13","v":1.4},{"c":"n","t":"2019-03-01","v":-1.8},{"c":"n","t":"2019-03-20","v":1.6},{"c":"n","t":"2019-04-09","v":-1.2},{"c":"n","t":"2019-04-30","v":1.1},{"c":"n","t":"2019-05-20","v":-1.0},{"c":"n","t":"2019-06-07","v":1.9},{"c":"n","t":"2019-06-20","v":2.4},{"c":"n","t":"2019-07-12","v":2.0},{"c":"n","t":"2019-07-18","v":3.2},{"c":"n","t":"2019-08-06","v":2.8},{"c":"n","t":"2019-08-13","v":3.5},{"c":"n","t":"2019-08-30","v":2.6},{"c":"n","t":"2019-09-04","v":4.4},{"c":"n","t":"2019-09-10","v":-3.6},{"c":"n","t":"2019-09-26","v":-2.5},{"c":"n","t":"2019-10-15","v":-1.8},{"c":"n","t":"2019-11-07","v":-3.8},{"c":"n","t":"2019-11-28","v":1.2},{"c":"n","t":"2019-12-19","v":1.4},{"c":"n","t":"2020-01-06","v":2.8},{"c":"n","t":"2020-01-21","v":-1.6},{"c":"n","t":"2020-02-11","v":-1.4},{"c":"n","t":"2020-02-24","v":2.3},{"c":"n","t":"2020-03-09","v":-4.1},{"c":"n","t":"2020-03-12","v":-6.8},{"c":"n","t":"2020-03-13","v":-5.2},{"c":"n","t":"2020-03-16","v":-12.5},{"c":"n","t":"2020-03-17","v":-6.5},{"c":"n","t":"2020-03-19","v":6.0},{"c":"n","t":"2020-03-24","v":10.4},{"c":"n","t":"2020-03-26","v":5.2},{"c":"n","t":"2020-04-06","v":3.0},{"c":"n","t":"2020-04-14","v":4.8},{"c":"n","t":"2020-04-21","v":-4.2},{"c":"n","t":"2020-05-18","v":5.2},{"c":"n","t":"2020-06-02","v":3.5},{"c":"n","t":"2020-06-22","v":2.6},{"c":"n","t":"2020-07-06","v":3.4},{"c":"n","t":"2020-07-14","v":3.2},{"c":"n","t":"2020-07-21","v":9.9},{"c":"n","t":"2020-07-22","v":5.8},{"c":"n","t":"2020-07-27","v":9.9},{"c":"n","t":"2020-07-28","v":-6.0},{"c":"n","t":"2020-08-05","v":9.0},{"c":"n","t":"2020-08-06","v":5.5},{"c":"n","t":"2020-08-10","v":-5.0},{"c":"n","t":"2020-08-11","v":-11.4},{"c":"n","t":"2020-08-14","v":6.9},{"c":"n","t":"2020-08-18","v":5.3},{"c":"n","t":"2020-08-19","v":-5.2},{"c":"n","t":"2020-09-01","v":3.0},{"c":"n","t":"2020-09-08","v":-4.5},{"c":"n","t":"2020-09-21","v":-7.2},{"c":"n","t":"2020-09-23","v":-7.2},{"c":"n","t":"2020-09-24","v":-4.5},{"c":"n","t":"2020-10-05","v":3.5},{"c":"n","t":"2020-10-12","v":2.9},{"c":"n","t":"2020-10-21","v":3.3},
{"c":"a","t":"2019-01-14","v":-0.8},{"c":"a","t":"2019-02-04","v":0.9},{"c":"a","t":"2019-04-10","v":1.1},{"c":"a","t":"2019-05-20","v":-1.3},{"c":"a","t":"2019-07-01","v":2.2},{"c":"a","t":"2019-07-29","v":0.7},{"c":"a","t":"2019-08-16","v":1.0},{"c":"a","t":"2019-09-24","v":-1.1},{"c":"a","t":"2019-10-14","v":0.8},{"c":"a","t":"2019-11-06","v":-0.7},{"c":"a","t":"2019-12-02","v":0.6},{"c":"a","t":"2020-01-08","v":1.2},{"c":"a","t":"2020-03-13","v":-1.5},{"c":"a","t":"2020-04-28","v":1.0},{"c":"a","t":"2020-06-22","v":-1.2},{"c":"a","t":"2020-08-04","v":1.5},{"c":"a","t":"2020-08-31","v":-1.3},{"c":"a","t":"2020-10-20","v":-0.9},
{"c":"b","t":"2019-01-28","v":0.7},{"c":"b","t":"2019-02-25","v":0.6},{"c":"b","t":"2019-04-01","v":0.9},{"c":"b","t":"2019-06-20","v":-0.8},{"c":"b","t":"2019-07-22","v":1.0},{"c":"b","t":"2019-09-05","v":0.8},{"c":"b","t":"2019-10-21","v":-0.7},{"c":"b","t":"2019-11-25","v":0.6},{"c":"b","t":"2019-12-23","v":-0.5},{"c":"b","t":"2020-01-15","v":0.8},{"c":"b","t":"2020-05-05","v":-1.6},{"c":"b","t":"2020-07-02","v":1.3},{"c":"b","t":"2020-08-05","v":-1.0},{"c":"b","t":"2020-09-28","v":1.2},
{"c":"c","t":"2019-02-01","v":0.6},{"c":"c","t":"2019-02-27","v":-0.7},{"c":"c","t":"2019-04-02","v":1.1},{"c":"c","t":"2019-05-02","v":-0.9},{"c":"c","t":"2019-06-03","v":0.8},{"c":"c","t":"2019-07-25","v":-1.2},{"c":"c","t":"2019-09-02","v":-0.8},{"c":"c","t":"2019-09-30","v":0.6},{"c":"c","t":"2019-11-04","v":1.3},{"c":"c","t":"2019-12-02","v":-1.1},{"c":"c","t":"2020-01-16","v":0.7},{"c":"c","t":"2020-04-23","v":-1.8},{"c":"c","t":"2020-06-30","v":1.1},{"c":"c","t":"2020-08-12","v":1.2},{"c":"c","t":"2020-10-06","v":0.9},
{"c":"d","t":"2019-01-25","v":-0.5},{"c":"d","t":"2019-03-11","v":0.6},{"c":"d","t":"2019-04-10","v":-0.7},{"c":"d","t":"2019-06-05","v":0.8},{"c":"d","t":"2019-07-16","v":-0.6},{"c":"d","t":"2019-08-16","v":-1.0},{"c":"d","t":"2019-09-11","v":0.9},{"c":"d","t":"2019-10-08","v":0.7},{"c":"d","t":"2019-11-26","v":-0.5},{"c":"d","t":"2019-12-11","v":0.4},{"c":"d","t":"2020-02-07","v":-0.6},{"c":"d","t":"2020-04-29","v":-1.2},{"c":"d","t":"2020-06-25","v":1.0},{"c":"d","t":"2020-08-27","v":1.6},{"c":"d","t":"2020-09-30","v":-0.9},
{"c":"e","t":"2019-01-21","v":0.8},{"c":"e","t":"2019-02-12","v":-0.7},{"c":"e","t":"2019-03-25","v":-1.2},{"c":"e","t":"2019-04-23","v":0.9},{"c":"e","t":"2019-06-05","v":-0.8},{"c":"e","t":"2019-07-05","v":1.0},{"c":"e","t":"2019-08-26","v":-1.1},{"c":"e","t":"2019-09-18","v":0.7},{"c":"e","t":"2019-10-14","v":1.1},{"c":"e","t":"2019-11-28","v":-0.9},{"c":"e","t":"2019-12-31","v":0.8},{"c":"e","t":"2020-01-07","v":-1.0},{"c":"e","t":"2020-04-21","v":-1.5},{"c":"e","t":"2020-06-15","v":1.2},{"c":"e","t":"2020-08-05","v":-1.3},{"c":"e","t":"2020-09-08","v":1.0},
{"c":"f","t":"2019-01-25","v":0.7},{"c":"f","t":"2019-02-20","v":-0.8},{"c":"f","t":"2019-04-01","v":1.0},{"c":"f","t":"2019-04-25","v":-0.6},{"c":"f","t":"2019-06-10","v":1.1},{"c":"f","t":"2019-07-08","v":-0.7},{"c":"f","t":"2019-09-25","v":-0.8},{"c":"f","t":"2019-10-16","v":0.9},{"c":"f","t":"2019-11-11","v":-0.6},{"c":"f","t":"2019-12-04","v":0.7},{"c":"f","t":"2020-01-07","v":0.6},{"c":"f","t":"2020-05-14","v":1.8},{"c":"f","t":"2020-06-25","v":1.3},{"c":"f","t":"2020-08-20","v":-1.1},{"c":"f","t":"2020-09-21","v":-2.0},
{"c":"g","t":"2019-02-01","v":0.7},{"c":"g","t":"2019-03-04","v":1.2},{"c":"g","t":"2019-04-02","v":-0.6},{"c":"g","t":"2019-04-26","v":0.7},{"c":"g","t":"2019-05-27","v":-0.8},{"c":"g","t":"2019-06-25","v":0.6},{"c":"g","t":"2019-07-24","v":0.9},{"c":"g","t":"2019-08-15","v":-1.2},{"c":"g","t":"2019-09-30","v":-0.6},{"c":"g","t":"2019-10-29","v":0.7},{"c":"g","t":"2019-11-27","v":-0.5},{"c":"g","t":"2019-12-18","v":0.6},{"c":"g","t":"2020-02-14","v":-0.9},{"c":"g","t":"2020-05-08","v":1.4},{"c":"g","t":"2020-06-30","v":-1.3},{"c":"g","t":"2020-07-27","v":-1.0},{"c":"g","t":"2020-09-08","v":0.9},{"c":"g","t":"2020-10-22","v":-0.8},
{"c":"h","t":"2019-03-14","v":-1.4},{"c":"h","t":"2019-04-16","v":1.2},{"c":"h","t":"2019-06-04","v":-1.1},{"c":"h","t":"2019-07-03","v":1.3},{"c":"h","t":"2019-08-15","v":-1.5},{"c":"h","t":"2019-09-04","v":1.8},{"c":"h","t":"2019-10-18","v":1.1},{"c":"h","t":"2019-12-03","v":-1.2},{"c":"h","t":"2020-01-15","v":1.4},{"c":"h","t":"2020-05-06","v":-1.8},{"c":"h","t":"2020-06-17","v":1.9},{"c":"h","t":"2020-07-16","v":-2.1},{"c":"h","t":"2020-08-18","v":2.4},{"c":"h","t":"2020-09-28","v":-1.8},
{"c":"i","t":"2019-01-30","v":-0.6},{"c":"i","t":"2019-02-25","v":0.5},{"c":"i","t":"2019-03-27","v":-0.8},{"c":"i","t":"2019-04-29","v":0.6},{"c":"i","t":"2019-05-21","v":-0.5},{"c":"i","t":"2019-06-27","v":-0.7},{"c":"i","t":"2019-07-26","v":-0.6},{"c":"i","t":"2019-08-15","v":-1.4},{"c":"i","t":"2019-09-11","v":0.8},{"c":"i","t":"2019-10-22","v":0.7},{"c":"i","t":"2019-11-21","v":-0.5},{"c":"i","t":"2019-12-27","v":0.6},{"c":"i","t":"2020-01-09","v":0.7},{"c":"i","t":"2020-05-14","v":-1.5},{"c":"i","t":"2020-07-08","v":-1.1},{"c":"i","t":"2020-08-20","v":-1.2},{"c":"i","t":"2020-09-30","v":1.1},
{"c":"j","t":"2019-01-21","v":0.3},{"c":"j","t":"2019-02-25","v":-0.4},{"c":"j","t":"2019-04-24","v":0.5},{"c":"j","t":"2019-05-15","v":0.3},{"c":"j","t":"2019-06-05","v":-0.5},{"c":"j","t":"2019-07-24","v":0.4},{"c":"j","t":"2019-08-08","v":-0.4},{"c":"j","t":"2019-09-03","v":0.5},{"c":"j","t":"2019-10-25","v":-0.4},{"c":"j","t":"2019-11-29","v":0.3},{"c":"j","t":"2020-01-03","v":0.5},{"c":"j","t":"2020-02-27","v":-0.6},{"c":"j","t":"2020-04-30","v":-0.7},{"c":"j","t":"2020-06-05","v":-0.6},{"c":"j","t":"2020-07-28","v":-0.5},{"c":"j","t":"2020-09-24","v":0.6},
{"c":"k","t":"2019-01-24","v":0.7},{"c":"k","t":"2019-02-15","v":-0.6},{"c":"k","t":"2019-03-21","v":1.1},{"c":"k","t":"2019-05-07","v":-0.5},{"c":"k","t":"2019-06-05","v":-0.4},{"c":"k","t":"2019-07-15","v":0.7},{"c":"k","t":"2019-08-29","v":0.8},{"c":"k","t":"2019-09-25","v":0.6},{"c":"k","t":"2019-11-07","v":-0.5},{"c":"k","t":"2020-01-02","v":0.6},{"c":"k","t":"2020-02-25","v":0.5},{"c":"k","t":"2020-04-29","v":-0.8},{"c":"k","t":"2020-06-04","v":-1.0},{"c":"k","t":"2020-07-30","v":-1.0},{"c":"k","t":"2020-08-12","v":0.6},{"c":"k","t":"2020-09-22","v":0.8},
{"c":"l","t":"2019-01-14","v":-0.6},{"c":"l","t":"2019-02-07","v":-0.9},{"c":"l","t":"2019-03-11","v":1.4},{"c":"l","t":"2019-04-24","v":-0.5},{"c":"l","t":"2019-05-23","v":-1.2},{"c":"l","t":"2019-06-18","v":1.0},{"c":"l","t":"2019-07-25","v":-0.5},{"c":"l","t":"2019-08-08","v":1.9},{"c":"l","t":"2019-09-04","v":1.1},{"c":"l","t":"2019-10-08","v":-1.6},{"c":"l","t":"2019-11-04","v":0.4},{"c":"l","t":"2019-12-12","v":0.9},{"c":"l","t":"2020-01-09","v":0.7},{"c":"l","t":"2020-05-05","v":0.9},{"c":"l","t":"2020-07-06","v":1.6},{"c":"l","t":"2020-07-23","v":-1.2},{"c":"l","t":"2020-08-24","v":1.0},{"c":"l","t":"2020-10-21","v":-0.9}
]
},
"hconcat": [
{
 "data": {"name": "vio"},
 "bounds": "flush",
 "facet": {"column": {"field": "s", "type": "nominal", "title": null,
   "sort": ["% Change CHINA A DS Market","% Change FRANCE DS Market","% Change GERMANY DS Market","% Change Gold Bullion LBM $/t oz DELAY","% Change HONG KONG DS Market","% Change ITALY DS Market","% Change JAPAN DS Market","% Change London Platinum Free Market $/Troy oz","% Change UK DS Market","% Change US $ TO EURO (RFV)","% Change US $ TO UK GBP (RFV)","% Change US DS Market","% Change US GOVERNMENT BOND SERIES 10 YEAR - RED. YIELD","% Change Silver (Zurich) SW.Francs/kg"],
   "header": {"labels": false, "title": null, "labelPadding": 0, "titlePadding": 0}}},
 "spacing": 0,
 "spec": {
  "width": 35, "height": 277,
  "layer": [
   {"mark": {"type": "rule", "color": "#BFBFBF", "strokeWidth": 2},
    "encoding": {
     "x": {"datum": 0, "type": "quantitative", "scale": {"domain": [0, 1.3]}, "axis": null},
     "y": {"field": "lo", "type": "quantitative", "scale": {"domain": [-30, 50], "nice": false, "zero": false},
       "axis": {"values": [-30,-20,-10,0,10,20,30,40,50], "title": null, "ticks": false, "domain": false, "grid": true, "gridColor": "#E6E6E6",
         "gridOpacity": {"condition": {"test": "datum.value === 50 || datum.value === -30", "value": 0}, "value": 1},
         "labelFont": "DejaVu Sans", "labelFontSize": 12.5, "labelColor": "#404040", "labelPadding": 7, "minExtent": 42, "maxExtent": 42}},
     "y2": {"field": "hi"}}},
   {"transform": [{"flatten": ["v", "w"]}],
    "mark": {"type": "area", "orient": "horizontal", "stroke": "#BFBFBF", "strokeWidth": 0.8, "fillOpacity": 1},
    "encoding": {
     "x": {"field": "w", "type": "quantitative", "scale": {"domain": [0, 1.3]}, "axis": null},
     "y": {"field": "v", "type": "quantitative", "scale": {"domain": [-30, 50], "nice": false, "zero": false},
       "axis": {"values": [-30,-20,-10,0,10,20,30,40,50], "title": null, "ticks": false, "domain": false, "grid": true, "gridColor": "#E6E6E6",
         "gridOpacity": {"condition": {"test": "datum.value === 50 || datum.value === -30", "value": 0}, "value": 1},
         "labelFont": "DejaVu Sans", "labelFontSize": 12.5, "labelColor": "#404040", "labelPadding": 7, "minExtent": 42, "maxExtent": 42}},
     "color": {"field": "s", "type": "nominal", "legend": null,
       "scale": {"domain": ["% Change CHINA A DS Market","% Change FRANCE DS Market","% Change GERMANY DS Market","% Change Gold Bullion LBM $/t oz DELAY","% Change HONG KONG DS Market","% Change ITALY DS Market","% Change JAPAN DS Market","% Change London Platinum Free Market $/Troy oz","% Change UK DS Market","% Change US $ TO EURO (RFV)","% Change US $ TO UK GBP (RFV)","% Change US DS Market","% Change US GOVERNMENT BOND SERIES 10 YEAR - RED. YIELD","% Change Silver (Zurich) SW.Francs/kg"],
         "range": ["#6E95D6","#E9994C","#80BE58","#D85A62","#7D8280","#9166B0","#D8B2AC","#CCC010","#FF10B0","#CCC400","#70F8F0","#F08080","#80D080","#E8B060"]}}}}
  ]
 }
},
{
 "width": 572, "height": 277,
 "layer": [
  {"data": {"values": [{"t": "2019-01-01"}, {"t": "2020-01-01"}]},
   "mark": {"type": "rule", "color": "#DCDCDC", "strokeWidth": 1},
   "encoding": {
    "x": {"field": "t", "type": "temporal",
      "scale": {"type": "utc", "padding": 7, "domain": [{"year": 2019, "month": 1, "date": 1, "utc": true}, {"year": 2020, "month": 10, "date": 25, "utc": true}]},
      "axis": {"orient": "bottom", "values": [{"year": 2019, "month": 7, "date": 2, "utc": true}, {"year": 2020, "month": 5, "date": 29, "utc": true}],
        "format": "%Y", "ticks": false, "domain": false, "grid": false, "title": null, "labelFont": "DejaVu Sans", "labelFontSize": 15, "labelColor": "#404040",
        "labelPadding": 11, "offset": 27, "labelFlush": false, "labelOverlap": false}}}},
  {"data": {"name": "ts"},
   "transform": [{"lookup": "c", "from": {"data": {"name": "names"}, "key": "c", "fields": ["n"]}}],
   "mark": {"type": "bar", "width": 1.2},
   "encoding": {
    "x": {"field": "t", "type": "temporal",
      "scale": {"type": "utc", "padding": 7, "domain": [{"year": 2019, "month": 1, "date": 1, "utc": true}, {"year": 2020, "month": 10, "date": 25, "utc": true}]},
      "axis": {"orient": "bottom", "values": [{"year": 2019, "month": 2, "date": 15, "utc": true}, {"year": 2019, "month": 5, "date": 16, "utc": true}, {"year": 2019, "month": 8, "date": 15, "utc": true}, {"year": 2019, "month": 11, "date": 15, "utc": true}, {"year": 2020, "month": 2, "date": 15, "utc": true}, {"year": 2020, "month": 5, "date": 16, "utc": true}, {"year": 2020, "month": 8, "date": 15, "utc": true}, {"year": 2020, "month": 10, "date": 15, "utc": true}],
        "labelExpr": "['I','II','III','IV'][utcquarter(datum.value) - 1]", "ticks": false, "domain": false, "grid": false, "title": null,
        "labelFont": "DejaVu Sans", "labelFontSize": 13, "labelColor": "#404040", "labelPadding": 11, "labelFlush": false, "labelOverlap": false, "labelBound": false}},
    "y": {"field": "v", "type": "quantitative", "scale": {"domain": [-30, 50], "nice": false, "zero": false},
      "axis": {"values": [-30,-20,-10,0,10,20,30,40,50], "labels": false, "ticks": false, "domain": false, "grid": true, "gridColor": "#E6E6E6",
        "gridOpacity": {"condition": {"test": "datum.value === 50 || datum.value === -30", "value": 0}, "value": 1},
        "title": null, "minExtent": 0, "maxExtent": 0}},
    "y2": {"datum": 0},
    "color": {"field": "n", "type": "nominal",
      "scale": {"domain": ["% Change CHINA A DS Market","% Change FRANCE DS Market","% Change GERMANY DS Market","% Change Gold Bullion LBM $/t oz DELAY","% Change HONG KONG DS Market","% Change ITALY DS Market","% Change JAPAN DS Market","% Change London Platinum Free Market $/Troy oz","% Change UK DS Market","% Change US $ TO EURO (RFV)","% Change US $ TO UK GBP (RFV)","% Change US DS Market","% Change US GOVERNMENT BOND SERIES 10 YEAR - RED. YIELD","% Change Silver (Zurich) SW.Francs/kg"],
        "range": ["#6F94D2","#E8994E","#84BA5E","#D55A5F","#7E8380","#8D68AA","#A86A58","#CFC316","#FF10B0","#CCCC00","#70FFF0","#E00000","#00A000","#E8B36A"]},
      "legend": {"orient": "none", "legendX": 59, "legendY": 351.5, "title": null, "symbolType": "square", "symbolSize": 240, "symbolStrokeColor": "#404040", "symbolStrokeWidth": 1, "symbolOpacity": 1,
        "labelFont": "DejaVu Sans", "labelFontSize": 12, "labelColor": "#262626", "labelLimit": 0, "rowPadding": 1.8, "labelOffset": 9, "padding": 8, "strokeColor": "#D9D9D9", "fillColor": "white"}}}}
 ],
 "resolve": {"axis": {"x": "independent"}}
}
]
}
